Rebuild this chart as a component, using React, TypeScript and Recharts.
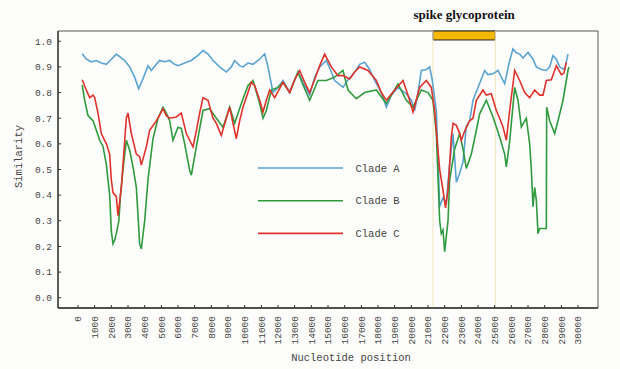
import React from "react";
import { LineChart, Line, XAxis, YAxis, ReferenceArea, ReferenceLine } from "recharts";

// [nucleotide position, similarity]
const cladeA: number[][] = [
  [250, 0.951], [500, 0.93], [800, 0.92], [1100, 0.925], [1400, 0.915], [1700, 0.91], [2000, 0.93],
  [2300, 0.95], [2600, 0.935], [2800, 0.925], [3100, 0.9], [3400, 0.86], [3640, 0.815], [3900, 0.854],
  [4200, 0.905], [4400, 0.886], [4700, 0.91], [4900, 0.925], [5200, 0.92], [5500, 0.925], [5800, 0.91],
  [6000, 0.905], [6400, 0.915], [6800, 0.925], [7200, 0.945], [7500, 0.964], [7800, 0.95], [8100, 0.925],
  [8500, 0.9], [8900, 0.88], [9200, 0.9], [9400, 0.925], [9700, 0.905], [9900, 0.9], [10200, 0.915],
  [10500, 0.91], [10900, 0.93], [11200, 0.951], [11400, 0.9], [11700, 0.8], [12000, 0.82], [12300, 0.847],
  [12700, 0.8], [13000, 0.85], [13200, 0.88], [13500, 0.84], [13900, 0.79], [14200, 0.86], [14500, 0.9],
  [14900, 0.925], [15200, 0.88], [15400, 0.847], [15900, 0.82], [16200, 0.85], [16500, 0.87], [16900, 0.91],
  [17200, 0.918], [17500, 0.89], [17800, 0.847], [18200, 0.8], [18500, 0.743], [18800, 0.79], [19200, 0.82],
  [19700, 0.795], [20000, 0.77], [20200, 0.73], [20400, 0.8], [20600, 0.886], [20900, 0.89], [21100, 0.9],
  [21250, 0.85], [21500, 0.73], [21600, 0.55], [21700, 0.355], [21900, 0.39], [22100, 0.37], [22300, 0.52],
  [22500, 0.64], [22700, 0.45], [22900, 0.485], [23100, 0.53], [23300, 0.67], [23500, 0.69], [23700, 0.77],
  [24000, 0.82], [24400, 0.886], [24600, 0.87], [24900, 0.873], [25200, 0.886], [25600, 0.835], [25900, 0.925],
  [26100, 0.97], [26300, 0.955], [26500, 0.95], [26700, 0.935], [27000, 0.957], [27300, 0.93], [27500, 0.9],
  [27800, 0.89], [28100, 0.886], [28300, 0.9], [28500, 0.944], [28700, 0.93], [28900, 0.9], [29200, 0.89],
  [29400, 0.95],
];

const cladeB: number[][] = [
  [250, 0.83], [400, 0.77], [600, 0.71], [900, 0.69], [1100, 0.653], [1300, 0.614], [1500, 0.59],
  [1700, 0.52], [1900, 0.4], [2000, 0.26], [2100, 0.21], [2200, 0.225], [2300, 0.25], [2450, 0.3],
  [2550, 0.4], [2700, 0.5], [2900, 0.614], [3100, 0.575], [3300, 0.51], [3500, 0.43], [3700, 0.21],
  [3800, 0.19], [4000, 0.3], [4200, 0.46], [4500, 0.62], [4800, 0.7], [5100, 0.743], [5300, 0.72],
  [5500, 0.69], [5700, 0.614], [6000, 0.665], [6200, 0.66], [6400, 0.6], [6700, 0.497], [6800, 0.478],
  [7100, 0.588], [7500, 0.73], [7900, 0.737], [8300, 0.7], [8700, 0.665], [9100, 0.743], [9400, 0.68],
  [9800, 0.757], [10200, 0.828], [10500, 0.847], [10900, 0.757], [11100, 0.7], [11300, 0.73], [11600, 0.81],
  [12000, 0.82], [12300, 0.84], [12700, 0.8], [13200, 0.88], [13500, 0.83], [13900, 0.77], [14400, 0.847],
  [14900, 0.847], [15400, 0.86], [15900, 0.886], [16200, 0.81], [16700, 0.776], [17200, 0.8], [17900, 0.81],
  [18500, 0.757], [19200, 0.834], [19700, 0.77], [20100, 0.743], [20600, 0.81], [21000, 0.8], [21300, 0.77],
  [21500, 0.64], [21600, 0.47], [21700, 0.3], [21800, 0.25], [21900, 0.264], [22000, 0.18], [22200, 0.3],
  [22300, 0.46], [22400, 0.5], [22600, 0.58], [22900, 0.64], [23100, 0.58], [23300, 0.504], [23600, 0.56],
  [23900, 0.653], [24100, 0.717], [24500, 0.77], [24900, 0.705], [25300, 0.627], [25600, 0.56], [25700, 0.51],
  [25900, 0.61], [26200, 0.82], [26400, 0.77], [26600, 0.666], [26900, 0.7], [27100, 0.6], [27200, 0.5],
  [27300, 0.355], [27400, 0.43], [27500, 0.38], [27600, 0.25], [27700, 0.27], [28100, 0.27], [28120, 0.743],
  [28300, 0.69], [28600, 0.64], [28800, 0.69], [29100, 0.77], [29400, 0.886], [29450, 0.9],
];

const cladeC: number[][] = [
  [250, 0.85], [500, 0.81], [700, 0.78], [900, 0.79], [1000, 0.78], [1200, 0.72], [1400, 0.64],
  [1700, 0.6], [1900, 0.56], [2000, 0.46], [2100, 0.41], [2300, 0.394], [2400, 0.32], [2600, 0.43],
  [2800, 0.61], [2900, 0.7], [3000, 0.72], [3200, 0.64], [3500, 0.56], [3700, 0.55], [3800, 0.517],
  [4100, 0.588], [4300, 0.653], [4600, 0.68], [4800, 0.7], [5100, 0.737], [5300, 0.71], [5500, 0.7],
  [5900, 0.705], [6200, 0.72], [6500, 0.64], [6900, 0.588], [7100, 0.65], [7300, 0.72], [7500, 0.78],
  [7800, 0.77], [8100, 0.7], [8300, 0.68], [8600, 0.633], [8900, 0.7], [9100, 0.743], [9300, 0.68],
  [9500, 0.62], [9700, 0.69], [9900, 0.743], [10200, 0.8], [10400, 0.84], [10600, 0.828], [10900, 0.77],
  [11100, 0.724], [11300, 0.77], [11500, 0.81], [11800, 0.78], [12300, 0.84], [12700, 0.8], [13000, 0.85],
  [13300, 0.886], [13600, 0.84], [13900, 0.8], [14200, 0.85], [14500, 0.905], [14800, 0.95], [15200, 0.9],
  [15600, 0.866], [15900, 0.866], [16300, 0.853], [16600, 0.88], [16900, 0.9], [17400, 0.886], [17900, 0.847],
  [18200, 0.8], [18500, 0.77], [19000, 0.81], [19500, 0.847], [19800, 0.79], [20100, 0.724], [20500, 0.82],
  [20900, 0.847], [21200, 0.82], [21400, 0.73], [21500, 0.65], [21700, 0.5], [21900, 0.42], [22050, 0.35],
  [22200, 0.42], [22400, 0.627], [22500, 0.68], [22700, 0.672], [22900, 0.64], [23000, 0.614], [23200, 0.65],
  [23500, 0.69], [23700, 0.7], [23900, 0.77], [24300, 0.81], [24500, 0.79], [24800, 0.795], [25100, 0.73],
  [25300, 0.7], [25500, 0.666], [25700, 0.614], [25900, 0.73], [26200, 0.886], [26500, 0.847], [26800, 0.8],
  [27100, 0.78], [27400, 0.81], [27700, 0.79], [27900, 0.79], [28100, 0.847], [28400, 0.85], [28700, 0.905],
  [29000, 0.87], [29150, 0.875], [29300, 0.918],
];

const seriesNames = ["Clade A", "Clade B", "Clade C"];
const seriesColors = ["#5aa3d0", "#2f9a3e", "#e0322c"];
const seriesData = [cladeA, cladeB, cladeC];

const xTicks = [0, 1000, 2000, 3000, 4000, 5000, 6000, 7000, 8000, 9000, 10000, 11000, 12000, 13000, 14000,
  15000, 16000, 17000, 18000, 19000, 20000, 21000, 22000, 23000, 24000, 25000, 26000, 27000, 28000, 29000, 30000];
const yTicks = [0, 0.1, 0.2, 0.3, 0.4, 0.5, 0.6, 0.7, 0.8, 0.9, 1.0];
const spikeStart = 21300;
const spikeEnd = 25040;
const spikeLabel = "spike glycoprotein";

const MONO = "'Liberation Mono', 'DejaVu Sans Mono', monospace";

const toPts = (arr: number[][]) => arr.map(([x, y]) => ({ x, y }));

function XTick(props: any) {
  const { x, y, payload } = props;
  return (
    <text x={x} y={y} transform={`rotate(-90, ${x}, ${y})`} textAnchor="end" dy="0.35em"
      fontSize={9.5} fill="#444" fontFamily={MONO}>
      {payload.value}
    </text>
  );
}

function YTick(props: any) {
  const { x, y, payload } = props;
  return (
    <text x={x} y={y} textAnchor="end" dy="0.35em" fontSize={9.5} fill="#444" fontFamily={MONO}>
      {Number(payload.value).toFixed(1)}
    </text>
  );
}

function YLabel(props: any) {
  const vb = props.viewBox || { x: 0, y: 31, width: 58, height: 277 };
  const cx = vb.x + 18;
  const cy = vb.y + vb.height / 2 - 13;
  return (
    <text x={cx} y={cy} transform={`rotate(-90, ${cx}, ${cy})`} textAnchor="middle" dy="0.35em"
      fontSize={10.5} fill="#444" fontFamily={MONO}>
      Similarity
    </text>
  );
}

function LegendBox() {
  return (
    <svg width={200} height={90} style={{ position: "absolute", left: 258, top: 158, overflow: "visible" }}>
      {seriesNames.map((n, i) => (
        <g key={n}>
          <line x1={0} x2={85} y1={10 + i * 32.7} y2={10 + i * 32.7} stroke={seriesColors[i]} strokeWidth={1.6} />
          <text x={97.5} y={10 + i * 32.7} dy="0.35em" fontSize={10.5} fill="#444" fontFamily={MONO}>{n}</text>
        </g>
      ))}
    </svg>
  );
}

export default function App() {
  return (
    <div style={{ position: "absolute", left: 0, top: 0, width: 620, height: 369, background: "#fdfdfb" }}>
      <LineChart width={620} height={369} margin={{ top: 31, right: 22, bottom: 0, left: 0 }}>
        <XAxis type="number" dataKey="x" domain={[-1200, 31200]} ticks={xTicks} interval={0}
          allowDataOverflow height={61} tick={<XTick />} tickSize={-3} tickMargin={11}
          axisLine={{ stroke: "#333", strokeWidth: 1.3 }} tickLine={{ stroke: "#333" }}
          label={{ value: "Nucleotide position", position: "insideBottom", offset: 8, dx: 23,
            style: { fontSize: 10.5, fill: "#444", fontFamily: MONO } }} />
        <YAxis type="number" domain={[-0.04, 1.04]} ticks={yTicks} interval={0} allowDataOverflow
          width={58} tick={<YTick />} tickSize={-3} tickMargin={9}
          axisLine={{ stroke: "#333", strokeWidth: 1.3 }} tickLine={{ stroke: "#333" }}
          label={<YLabel />} />
        <ReferenceArea x1={-1200} x2={31200} y1={-0.04} y2={1.04} fill="none" stroke="#555" strokeWidth={1}
          ifOverflow="visible" />
        <ReferenceLine x={spikeStart} stroke="#efe3c3" strokeWidth={1} />
        <ReferenceLine x={spikeEnd} stroke="#efe3c3" strokeWidth={1} />
        {seriesData.map((d, i) => (
          <Line key={seriesNames[i]} data={toPts(d)} dataKey="y" name={seriesNames[i]} type="linear"
            stroke={seriesColors[i]} strokeWidth={1.6} dot={false} activeDot={false} isAnimationActive={false} />
        ))}
        <ReferenceArea x1={spikeStart} x2={spikeEnd} y1={1.005} y2={1.04} fill="#f6b700" fillOpacity={1}
          stroke="#222" strokeWidth={1} ifOverflow="visible"
          label={{ value: spikeLabel, position: "top", offset: 12,
            style: { fontSize: 13, fontWeight: "bold", fill: "#111", fontFamily: "'Liberation Serif', serif" } }} />
      </LineChart>
      <LegendBox />
    </div>
  );
}
